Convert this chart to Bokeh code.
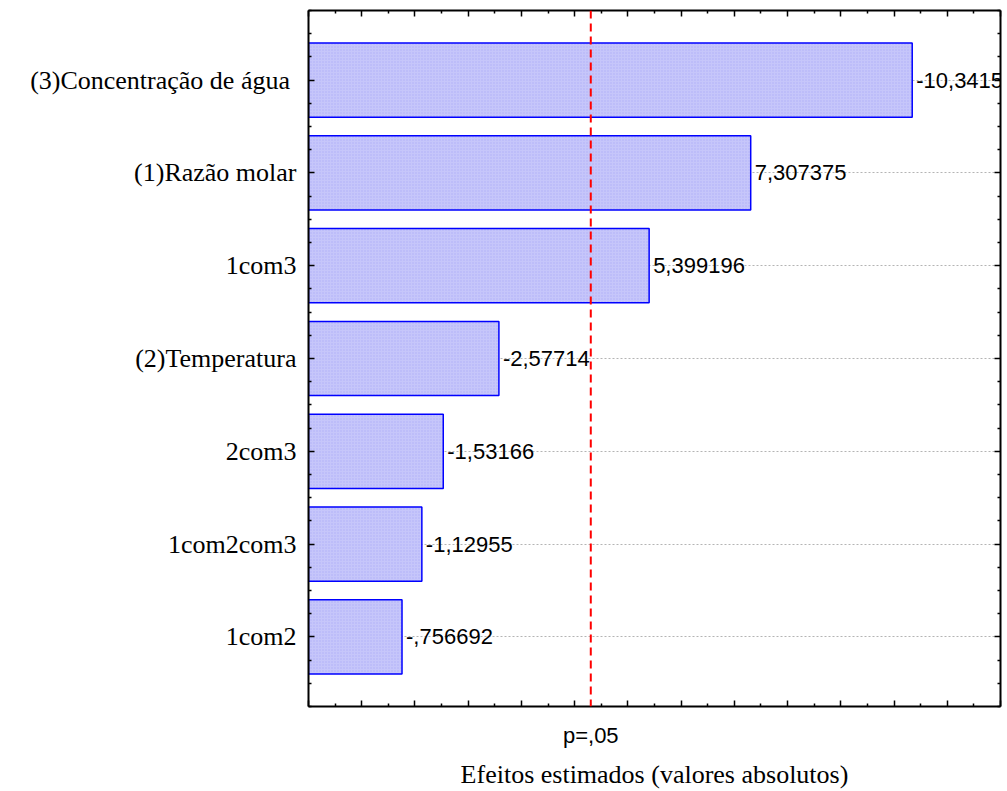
from bokeh.plotting import figure
from bokeh.models import Range1d, FixedTicker, LinearAxis, Span, ColumnDataSource, CustomLabelingPolicy
from bokeh.embed import file_html
from bokeh.resources import INLINE
from bokeh.core.properties import value

# ---- data ----
categories = ["(3)Concentração de água ", "(1)Razão molar", "1com3", "(2)Temperatura",
              "2com3", "1com2com3", "1com2"]
effects = [-10.3415, 7.307375, 5.399196, -2.57714, -1.53166, -1.12955, -0.756692]
effect_labels = ["-10,3415", "7,307375", "5,399196", "-2,57714", "-1,53166", "-1,12955", "-,756692"]
t_critical = 4.303
p_label = "p=,05"
x_title = "Efeitos estimados (valores absolutos)"
x_min, x_max = -1, 12

n = len(categories)
ypos = [n - 1 - i for i in range(n)]
absvals = [abs(v) for v in effects]

src = ColumnDataSource(dict(y=ypos, right=absvals, left=[x_min] * n, label=effect_labels))

W, H = 1007, 791
p = figure(width=W, height=H, output_backend="svg", toolbar_location=None,
           x_range=Range1d(x_min, x_max), y_range=Range1d(-0.75, n - 1 + 0.75),
           min_border_left=308, min_border_right=7, min_border_top=10, min_border_bottom=84)
p.outline_line_color = None
p.background_fill_color = "white"
p.border_fill_color = "white"

maj_x = list(range(x_min, x_max + 1))
min_x = [k + 0.5 for k in range(x_min, x_max)]
maj_y = sorted(ypos)
min_y = [-0.75 + 0.25 * k for k in range(int((n - 1 + 1.5) / 0.25) + 1)]
min_y = [v for v in min_y if abs(v - round(v)) > 1e-9]

NO_LABELS = """
for (let i = 0; i < indices.size; i++) {
  if (indices.unset) { indices.unset(i) } else { indices.set(i, false) }
}
return indices
"""


def style(ax):
    ax.axis_line_width = 2
    ax.axis_line_color = "black"
    ax.major_tick_in = 6
    ax.major_tick_out = 0
    ax.minor_tick_in = 3
    ax.minor_tick_out = 0
    ax.major_tick_line_width = 1.5
    ax.minor_tick_line_width = 1.5
    ax.major_tick_line_color = "black"
    ax.minor_tick_line_color = "black"


def hide_labels(ax):
    ax.major_label_text_font_size = "0px"
    ax.major_label_standoff = 0
    ax.major_label_policy = CustomLabelingPolicy(code=NO_LABELS)


# bottom ticks axis
xb = p.xaxis[0]
xb.ticker = FixedTicker(ticks=maj_x, minor_ticks=min_x)
style(xb)
hide_labels(xb)

# top axis
xt = LinearAxis(ticker=FixedTicker(ticks=maj_x, minor_ticks=min_x))
style(xt)
hide_labels(xt)
p.add_layout(xt, "above")

# left axis with categories
yl = p.yaxis[0]
yl.ticker = FixedTicker(ticks=maj_y, minor_ticks=min_y)
style(yl)
yl.major_label_overrides = {y: c for y, c in zip(ypos, categories)}
yl.major_label_text_font = "Liberation Serif"
yl.major_label_text_font_size = "26px"
yl.major_label_text_color = "black"
yl.major_label_standoff = 12

# right axis
yr = LinearAxis(ticker=FixedTicker(ticks=maj_y, minor_ticks=min_y))
style(yr)
hide_labels(yr)
p.add_layout(yr, "right")

# second bottom axis: p label + title
xl = LinearAxis(ticker=FixedTicker(ticks=[t_critical], minor_ticks=[]),
                major_label_overrides={t_critical: p_label}, axis_label=x_title)
xl.axis_line_color = None
xl.major_tick_line_color = None
xl.minor_tick_line_color = None
xl.major_label_text_font = "Liberation Sans"
xl.major_label_text_font_size = "22px"
xl.major_label_text_color = "black"
xl.major_label_standoff = 10
xl.axis_label_text_font = "Liberation Serif"
xl.axis_label_text_font_size = "26px"
xl.axis_label_text_font_style = "normal"
xl.axis_label_text_color = "black"
xl.axis_label_standoff = 9
p.add_layout(xl, "below")

# grid
p.xgrid.visible = False
p.ygrid.ticker = FixedTicker(ticks=maj_y)
p.ygrid.grid_line_color = "#b4b4b4"
p.ygrid.grid_line_dash = "2 2"
p.ygrid.grid_line_width = 1

# bars
p.hbar(y="y", left="left", right="right", height=0.8, source=src,
       fill_color="#c6c6fa", line_color="#0000ff", line_width=1.5,
       hatch_pattern="dot", hatch_color="#aeaef6", hatch_scale=3, hatch_weight=1)

# value labels
p.text(x="right", y="y", text="label", source=src, x_offset=4,
       text_baseline="middle", text_align="left",
       text_font=value("Liberation Sans"), text_font_size="22px", text_color="black")

# critical value line
p.add_layout(Span(location=t_critical, dimension="height", line_color="red",
                  line_dash="8 5", line_width=2))

open("out.html", "w").write(file_html(p, INLINE))
